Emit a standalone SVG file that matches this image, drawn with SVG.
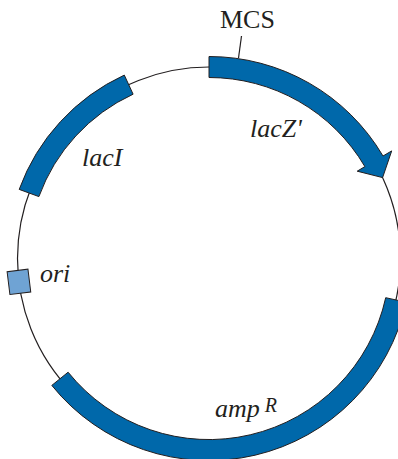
<svg xmlns="http://www.w3.org/2000/svg" width="398" height="459" viewBox="0 0 398 459">
<style>
.band{fill:#0068AA;stroke:#231F20;stroke-width:1;stroke-linejoin:miter}
.ori{fill:#6FA3D4;stroke:#231F20;stroke-width:1}
.lbl{font-family:"Liberation Serif","Times New Roman",serif;font-size:26px;fill:#231F20}
.it{font-style:italic}
.line{fill:none;stroke:#231F20;stroke-width:1.2}
</style>
<rect width="398" height="459" fill="#FFFFFF"/>
<g id="backbone">
<circle class="line" cx="209" cy="258.5" r="191.5"/>
</g>
<g id="connectors">
<line class="line" x1="241.5" y1="36" x2="238.5" y2="58"/>
</g>
<g id="lacZ">
<path class="band" d="M209,56.5 A202,202 0 0 1 383.0,156.0 L391.7,150.9 L382.6,177.6 L357.2,171.2 L364.9,166.6 A181,181 0 0 0 209,77.5 Z"/>
<text class="lbl it" x="250" y="137" font-size="27">lacZ'</text>
</g>
<g id="MCS">
<text class="lbl" x="220" y="28" font-size="26.5">MCS</text>
</g>
<g id="lacI">
<path class="band" d="M19.2,189.4 A202,202 0 0 1 124.3,75.1 L133.1,94.2 A181,181 0 0 0 38.9,196.6 Z"/>
<text class="lbl it" x="82" y="166">lacI</text>
</g>
<g id="ori">
<rect class="ori" x="-11.5" y="-202" width="23" height="21" transform="translate(209 258.5) rotate(263)"/>
<text class="lbl it" x="40" y="282">ori</text>
</g>
<g id="ampR">
<path class="band" d="M406.2,302.2 A202,202 0 0 1 51.8,385.4 L68.1,372.2 A181,181 0 0 0 385.7,297.7 Z"/>
<text class="lbl it" x="215" y="417">amp<tspan font-size="20" dx="5" dy="-5">R</tspan></text>
</g>
</svg>
